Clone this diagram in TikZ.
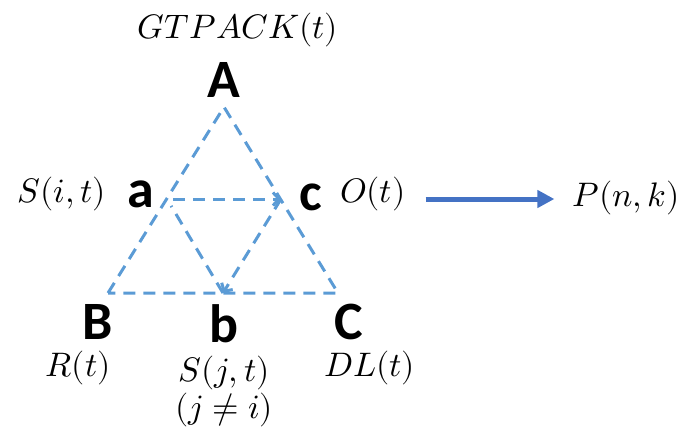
\documentclass[tikz,border=0pt]{standalone}
\usepackage{fontspec}
\usepackage{unicode-math}
\setmathfont{Latin Modern Math}
\setsansfont{Carlito}
\usetikzlibrary{arrows.meta}
\definecolor{dashblue}{RGB}{91,155,213}
\definecolor{arrowblue}{RGB}{68,114,196}
\tikzset{
  big/.style={font=\sffamily\bfseries\fontsize{54}{56}\selectfont, inner sep=0pt},
  mlabel/.style={font=\fontsize{34}{38}\selectfont, inner sep=0pt},
  edge/.style={draw=dashblue, line width=3pt, dash pattern=on 12pt off 8pt},
  flow/.style={edge, -{Straight Barb[length=6pt,width=13pt,line width=3pt]}},
  bigarrow/.style={draw=arrowblue, line width=5pt, -{Triangle[length=17pt,width=17pt]}}
}
\begin{document}
\begin{tikzpicture}[x=1pt,y=-1pt]
\useasboundingbox (0,0) rectangle (694,432);
% triangle corners and midpoints
\coordinate (vA) at (224,107);
\coordinate (vB) at (108,293);
\coordinate (vC) at (338,293);
\coordinate (ma) at (167,199);
\coordinate (mc) at (281,199);
\coordinate (mb) at (223,293);
% outer triangle
\draw[edge] (vB) -- (vA) -- (vC) -- cycle;
% inner triangle
\draw[flow, shorten <=6pt] (ma) -- (mc);
\draw[flow] (mc) -- (mb);
\draw[edge, shorten >=8pt] (mb) -- (ma);
% labels
\node[mlabel] (gt) at (238,30) {$GTPACK(t)$};
\node[big] (A) at (224,80) {A};
\node[mlabel] (si) at (62,194) {$S(i,t)$};
\node[big] (a) at (141,194) {a};
\node[big] (c) at (311,197) {c};
\node[mlabel] (ot) at (373,194) {$O(t)$};
\node[mlabel] (pnk) at (626,198) {$P(n,k)$};
\node[big] (B) at (98,322) {B};
\node[big] (b) at (224,324) {b};
\node[big] (C) at (349,322) {C};
\node[mlabel] (rt) at (78,368) {$R(t)$};
\node[mlabel] (sj) at (224,373) {$S(j,t)$};
\node[mlabel] (ji) at (224,410) {$(j\neq i)$};
\node[mlabel] (dl) at (370,368) {$DL(t)$};
% main arrow
\draw[bigarrow, shorten <=20pt, shorten >=18pt] (ot.east |- mc) -- (pnk.west |- mc);
\end{tikzpicture}
\end{document}
